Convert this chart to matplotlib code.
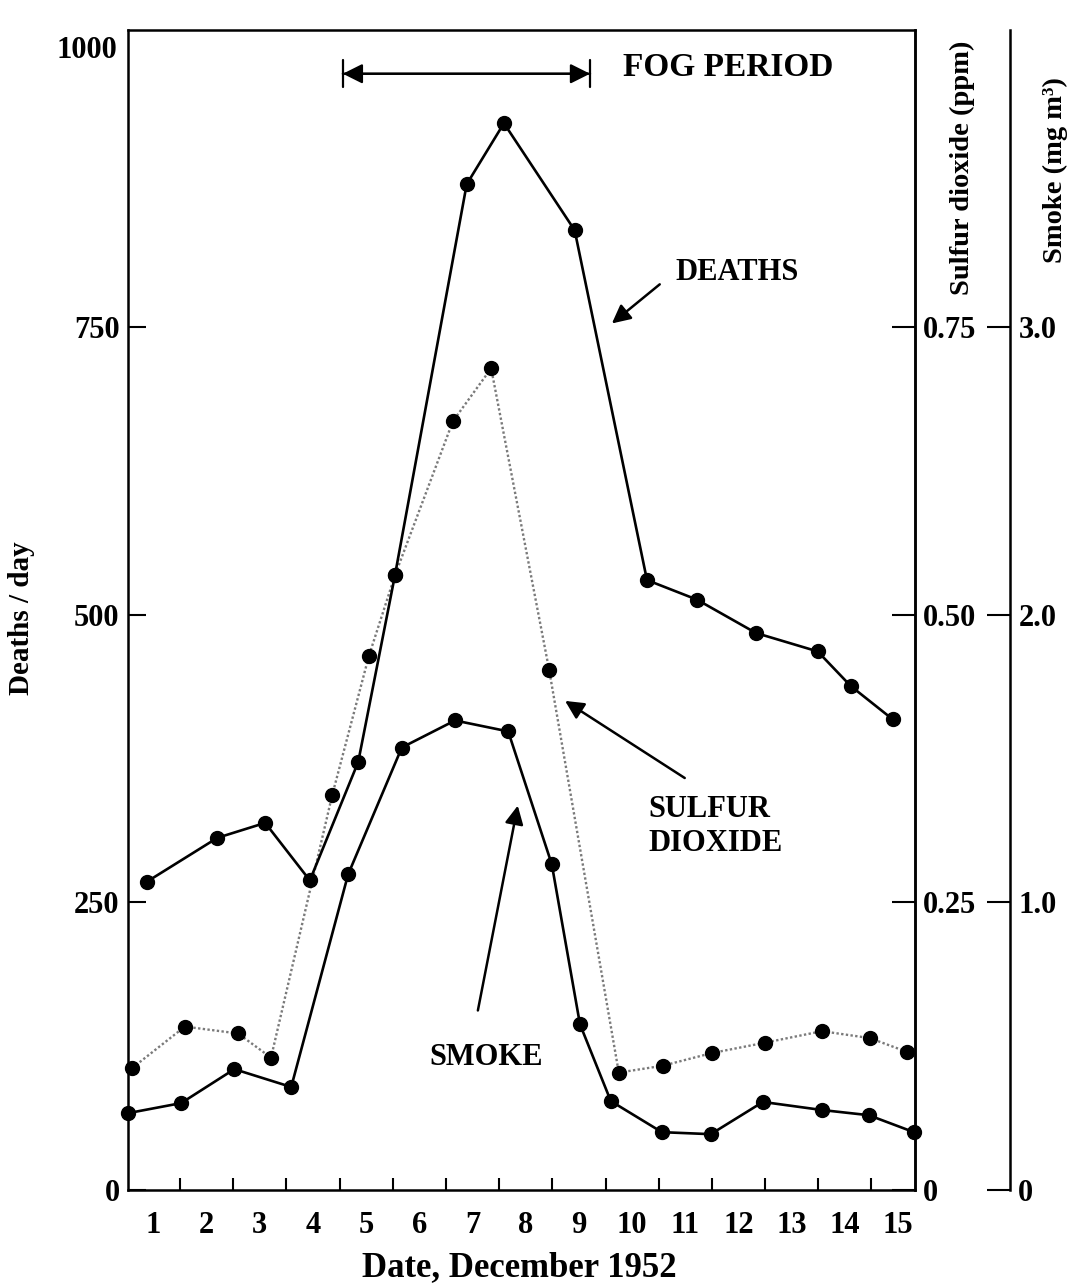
import matplotlib
matplotlib.use("Agg")
import matplotlib.pyplot as plt
import matplotlib.transforms as mtransforms
from matplotlib.ticker import FixedLocator, NullFormatter

plt.rcParams['font.family'] = ['Liberation Serif', 'DejaVu Serif']
plt.rcParams['font.weight'] = 'bold'

# London fog, December 1952
deaths_day = [0.88, 2.20, 3.10, 3.94, 4.85, 5.54, 6.89, 7.59, 8.92,
              10.28, 11.22, 12.33, 13.49, 14.11, 14.90]
deaths = [268, 306, 319, 269, 372, 534, 874, 927, 834,
          530, 513, 484, 468, 438, 409]

so2_day = [0.60, 1.59, 2.59, 3.21, 4.36, 5.05, 5.54, 6.63, 7.35, 8.44,
           9.75, 10.58, 11.50, 12.50, 13.57, 14.47, 15.17]
so2 = [0.106, 0.142, 0.136, 0.115, 0.343, 0.464, 0.534, 0.668, 0.714, 0.452,
       0.102, 0.108, 0.119, 0.128, 0.138, 0.132, 0.120]

smoke_day = [0.52, 1.52, 2.52, 3.59, 4.66, 5.67, 6.67, 7.67, 8.49,
             9.02, 9.60, 10.56, 11.48, 12.46, 13.57, 14.45, 15.30]
smoke = [0.267, 0.302, 0.420, 0.358, 1.097, 1.538, 1.632, 1.594, 1.132,
         0.576, 0.309, 0.201, 0.194, 0.306, 0.278, 0.260, 0.201]

days = list(range(1, 16))
deaths_ticks = [0, 250, 500, 750]
deaths_top = 1000
so2_ticks = [0, 0.25, 0.50, 0.75]
so2_labels = ['0', '0.25', '0.50', '0.75']
smoke_ticks = [0, 1.0, 2.0, 3.0]
smoke_labels = ['0', '1.0', '2.0', '3.0']

YMAX = 1008
XMIN, XMAX = 0.52, 15.32
TICK_FS = 22
ANN_FS = 22

fig = plt.figure(figsize=(10.79, 12.88), dpi=100)
ax = fig.add_axes([0.1186, 0.0761, 0.7294, 0.9006])

ax.plot(so2_day, [v * 1000 for v in so2], color='#7a7a7a', ls=(0, (1, 1)), lw=1.7,
        marker='o', ms=10, mfc='black', mec='black', clip_on=False, zorder=3)
ax.plot(deaths_day, deaths, color='black', lw=1.9, marker='o', ms=10,
        clip_on=False, zorder=4)
ax.plot(smoke_day, [v * 250 for v in smoke], color='black', lw=1.9, marker='o', ms=10,
        clip_on=False, zorder=4)

ax.set_xlim(XMIN, XMAX)
ax.set_ylim(0, YMAX)

# x axis: tick marks between days, labels at day centres
ax.xaxis.set_major_locator(FixedLocator([d + 0.5 for d in days[:-1]]))
ax.xaxis.set_major_formatter(NullFormatter())
ax.xaxis.set_minor_locator(FixedLocator(days))
ax.set_xticklabels([str(d) for d in days], minor=True)
ax.tick_params(axis='x', which='major', direction='in', length=8.5, width=1.5)
ax.tick_params(axis='x', which='minor', length=0, pad=15, labelsize=TICK_FS)

ax.set_yticks(deaths_ticks)
ax.set_yticklabels([str(t) for t in deaths_ticks])
ax.tick_params(axis='y', which='major', direction='in', length=13, width=1.5, pad=6,
               labelsize=TICK_FS)
# the top value has no tick mark and its label sits a little lower
ax.set_yticks([deaths_top], minor=True)
ax.set_yticklabels([str(deaths_top)], minor=True)
ax.tick_params(axis='y', which='minor', length=0, pad=8, labelsize=TICK_FS)
for lab in ax.get_yticklabels(minor=True):
    lab.set_transform(lab.get_transform() +
                      mtransforms.ScaledTranslation(0, -8 / 100, fig.dpi_scale_trans))

for s in ax.spines.values():
    s.set_linewidth(1.8)

ax.set_xlabel('Date, December 1952', fontsize=25, fontweight='bold')
ax.xaxis.set_label_coords(0.497, -0.053)
ax.set_ylabel('Deaths / day', fontsize=21, fontweight='bold')
ax.yaxis.set_label_coords(-0.118, 0.493)

# sulfur dioxide axis (on the frame's right spine)
ax2 = ax.twinx()
ax2.set_ylim(0, YMAX / 1000)
ax2.set_yticks(so2_ticks)
ax2.set_yticklabels(so2_labels)
ax2.tick_params(axis='y', direction='in', length=16.5, width=1.5, pad=6, labelsize=TICK_FS)
for k in ['left', 'top', 'bottom']:
    ax2.spines[k].set_visible(False)
ax2.spines['right'].set_linewidth(1.8)
ax2.set_ylabel('Sulfur dioxide (ppm)', fontsize=20.5, fontweight='bold')
ax2.yaxis.set_label_coords(1.044, 0.881)

# smoke axis, offset to the right
ax3 = ax.twinx()
ax3.spines['right'].set_position(('outward', 68.4))
ax3.set_ylim(0, YMAX / 250)
ax3.set_yticks(smoke_ticks)
ax3.set_yticklabels(smoke_labels)
ax3.tick_params(axis='y', direction='in', length=16.5, width=1.5, pad=6, labelsize=TICK_FS)
for k in ['left', 'top', 'bottom']:
    ax3.spines[k].set_visible(False)
ax3.spines['right'].set_linewidth(1.8)
ax3.set_ylabel('Smoke (mg m³)', fontsize=20.5, fontweight='bold')
ax3.yaxis.set_label_coords(1.163, 0.879)

# fog period marker
ax.annotate('', xy=(9.21, 970), xytext=(4.56, 970),
            arrowprops=dict(arrowstyle='<|-|>', color='black', lw=1.6,
                            mutation_scale=30, shrinkA=0, shrinkB=0))
ax.annotate('', xy=(9.21, 970), xytext=(4.56, 970),
            arrowprops=dict(arrowstyle='|-|, widthA=0.33, widthB=0.33', color='black',
                            lw=1.6, mutation_scale=30, shrinkA=0, shrinkB=0))
ax.text(9.83, 975, 'FOG PERIOD', fontsize=24, fontweight='bold', va='center', ha='left')

arrow = dict(arrowstyle='-|>', color='black', lw=1.8, mutation_scale=28,
             shrinkA=0, shrinkB=0)
ax.text(11.97, 797, 'DEATHS', fontsize=ANN_FS, fontweight='bold',
        ha='center', va='center')
ax.annotate('', xy=(9.62, 753), xytext=(10.52, 787), arrowprops=arrow)

ax.text(10.30, 316, 'SULFUR\nDIOXIDE', fontsize=ANN_FS, fontweight='bold',
        ha='left', va='center', linespacing=1.25)
ax.annotate('', xy=(8.74, 425), xytext=(10.99, 358), arrowprops=arrow)

ax.text(7.25, 115, 'SMOKE', fontsize=ANN_FS, fontweight='bold', ha='center', va='center')
ax.annotate('', xy=(7.85, 334), xytext=(7.10, 156), arrowprops=arrow)

fig.savefig('out.png', dpi=100)
